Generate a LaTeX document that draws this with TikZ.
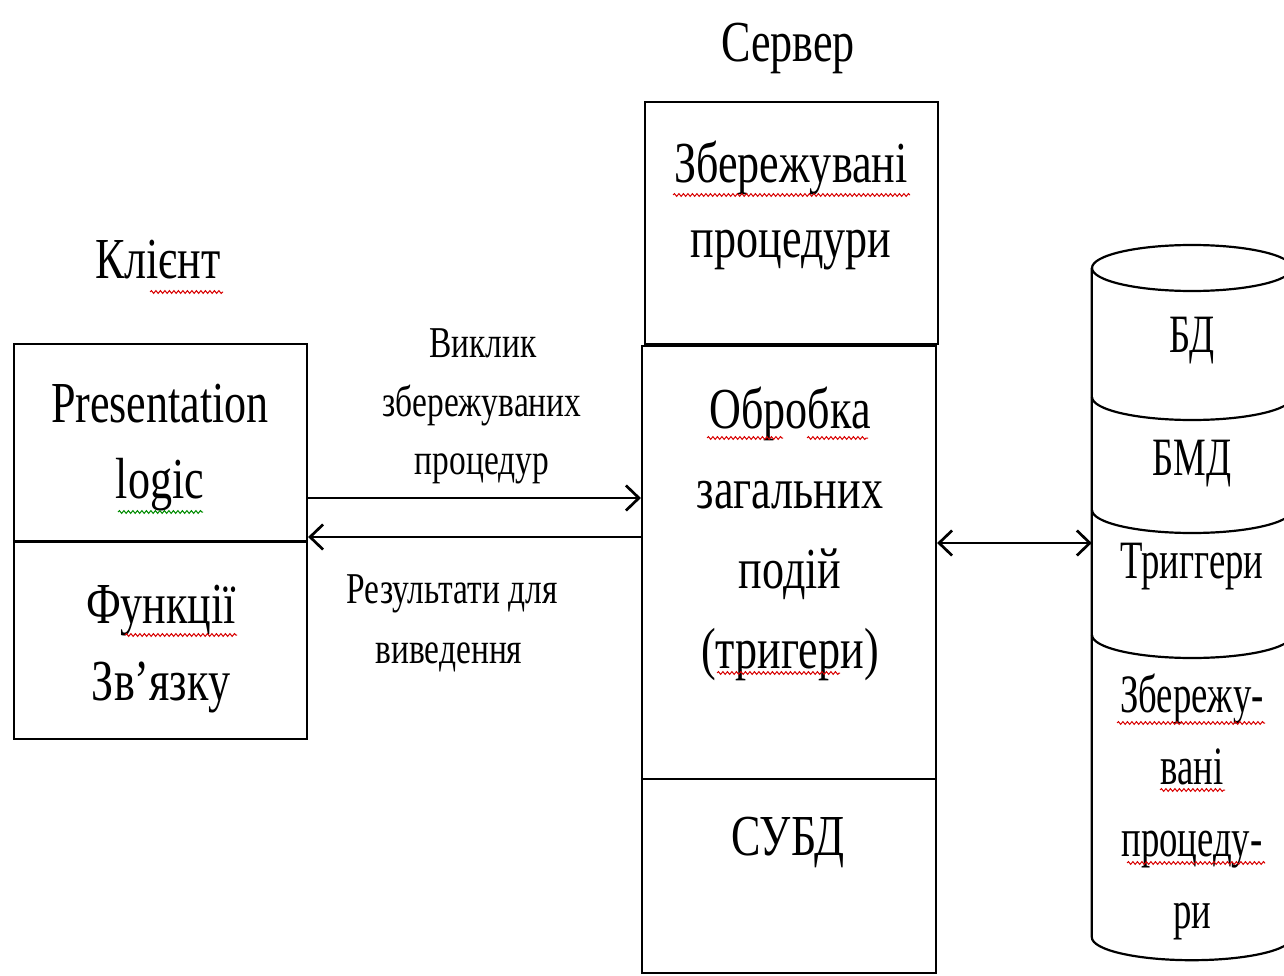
\documentclass[tikz,border=0pt]{standalone}
\usepackage{fontspec}
\setmainfont{Liberation Serif}[FakeStretch=0.76]
\newfontfamily\dbfont{Liberation Serif}[FakeStretch=0.68]
\usetikzlibrary{arrows.meta,decorations.pathmorphing}

\tikzset{
  box/.style={draw=black, line width=2.2pt},
  boxn/.style={box, rectangle, inner sep=0pt},
  ghost/.style={rectangle, inner sep=0pt},
  big/.style={font=\fontsize{58}{70}\selectfont, anchor=base, inner sep=0pt},
  dbtext/.style={font=\dbfont\fontsize{54}{66}\selectfont, anchor=base, inner sep=0pt},
  small/.style={font=\fontsize{44}{52}\selectfont, anchor=base, inner sep=0pt},
  arr/.style={line width=2.7pt},
  >={Straight Barb[length=13pt,width=25pt]},
  spell/.style={draw=red!85!black, line width=1pt, decorate,
    decoration={snake, amplitude=1.4pt, segment length=4.5pt}},
  gram/.style={spell, draw=green!55!black},
}

\begin{document}
\begin{tikzpicture}[x=1pt,y=-1pt]
  \useasboundingbox (0,0) rectangle (1284,976);
  \clip (0,0) rectangle (1284,976);
  \fill[white] (0,0) rectangle (1284,976);

  % ---- client ----
  \node[big] (clientTitle) at (158,278) {Клієнт};
  \node[boxn, minimum width=293pt, minimum height=395pt] (client) at (160.5,541.5) {};
  \draw[box] (client.west) -- (client.east);
  \node[big] (presA) at (160,422) {Presentation};
  \node[big] (presB) at (160,498) {logic};
  \node[big] (linkA) at (161,623) {Функції};
  \node[big] (linkB) at (161,700) {Зв’язку};

  % ---- server ----
  \node[big] (serverTitle) at (788,62) {Сервер};
  \node[boxn, minimum width=293pt, minimum height=242pt] (stored) at (791.5,223) {};
  \node[big] (storedA) at (791,183) {Збережувані};
  \node[big] (storedB) at (791,258) {процедури};
  \node[boxn, minimum width=294pt, minimum height=627pt] (proc) at (789,659.5) {};
  \draw[box] ([yshift=-119.5pt]proc.west) -- ([yshift=-119.5pt]proc.east);
  \node[big] (procA) at (790,428) {Обробка};
  \node[big] (procB) at (790,508) {загальних};
  \node[big] (procC) at (790,588) {подій};
  \node[big] (procD) at (790,668) {(тригери)};
  \node[big] (dbms) at (788,855) {СУБД};

  % ---- database cylinder ----
  \node[ghost, minimum width=200pt, minimum height=669pt] (db) at (1192,602.5) {};
  \draw[box] (1192,268) ellipse [x radius=100pt, y radius=23pt];
  \draw[box] (db.north west) -- (db.south west)
    arc[start angle=180, end angle=360, x radius=100pt, y radius=23pt]
    -- (db.north east);
  \foreach \yy in {397,510,635}
    \draw[box] (1092,\yy) arc[start angle=180, end angle=360, x radius=100pt, y radius=23pt];
  \node[dbtext] (dbA) at (1192,352) {БД};
  \node[dbtext] (dbB) at (1192,475) {БМД};
  \node[dbtext] (dbC) at (1192,578) {Триггери};
  \node[dbtext] (dbD) at (1192,712) {Збережу-};
  \node[dbtext] (dbE) at (1192,784) {вані};
  \node[dbtext] (dbF) at (1192,856) {процеду-};
  \node[dbtext] (dbG) at (1192,928) {ри};

  % ---- connectors ----
  \draw[arr,->] ([yshift=43.5pt]client.east) -- ([yshift=43.5pt]client.east -| proc.west);
  \draw[arr,<-] ([yshift=4.5pt]client.east) -- ([yshift=4.5pt]client.east -| proc.west);
  \draw[arr,<->] ([yshift=116.5pt]proc.east) -- ([yshift=116.5pt]proc.east -| db.west);

  \node[small] (callA) at (483,357) {Виклик};
  \node[small] (callB) at (482,416) {збережуваних};
  \node[small] (callC) at (482,474) {процедур};
  \node[small] (resA) at (452,603) {Результати для};
  \node[small] (resB) at (449,663) {виведення};

  % ---- proofing underlines ----
  \draw[spell] (150,292) -- (223,292);
  \draw[gram]  (118,512) -- (203,512);
  \draw[spell] (125,635) -- (237,635);
  \draw[spell] (673,195) -- (910,195);
  \draw[spell] (707,438) -- (783,438);
  \draw[spell] (807,438) -- (868,438);
  \draw[spell] (717,673) -- (840,673);
  \draw[spell] (1117,723) -- (1265,723);
  \draw[spell] (1160,790) -- (1225,790);
  \draw[spell] (1127,863) -- (1265,863);
\end{tikzpicture}
\end{document}
